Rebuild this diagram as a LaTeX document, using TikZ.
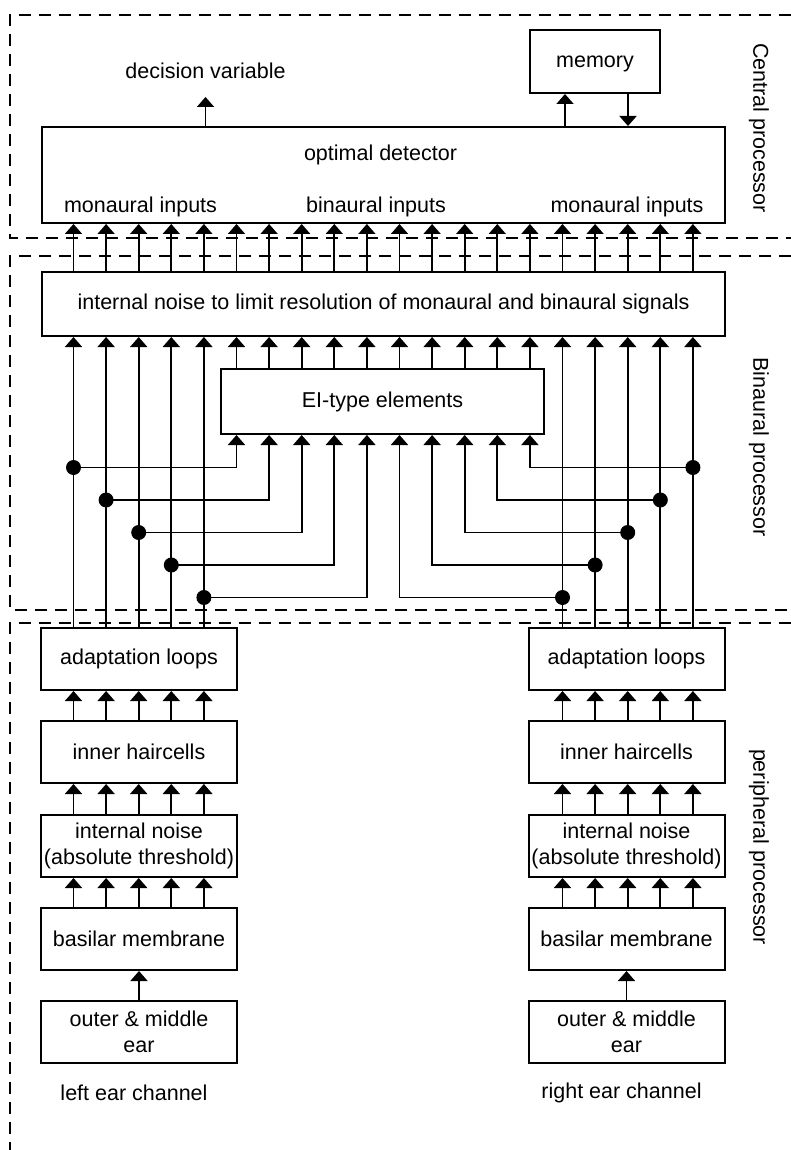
\documentclass[tikz,border=0pt]{standalone}
\usepackage{fontspec}
\setmainfont{Liberation Sans}
\usepackage{tikz}
\usetikzlibrary{arrows.meta,positioning,calc}
\newcommand{\blkfont}{\fontsize{21.5}{26.5}\selectfont}
\tikzset{
  block/.style={rectangle, draw=black, line width=2pt, align=center, inner sep=0pt, font=\blkfont},
  widebox/.style={block, minimum width=683pt},
  earbox/.style={block, minimum width=196pt, minimum height=62pt},
  txt/.style={inner sep=0pt, align=center, font=\blkfont},
  side/.style={txt, rotate=-90},
  arrow/.style={-{Triangle[length=10pt,width=17pt]}, line width=1.8pt, draw=black},
  dot/.style={circle, fill=black, inner sep=0pt, minimum size=15pt},
  frame/.style={line width=1.8pt, dash pattern=on 12pt off 8pt}
}

\begin{document}
\begin{tikzpicture}[x=1pt, y=-1pt]
\fill[white] (0,0) rectangle (791,1150);
\useasboundingbox (0,0) rectangle (791,1150);
% processor regions
\draw[frame] (791,15) -- (10,15) -- (10,238) -- (791,238);
\draw[frame] (791,256) -- (10,256) -- (10,610) -- (791,610);
\draw[frame] (791,623) -- (10,623) -- (10,1150);
\node[side] (cproc) at (759,128) {Central processor};
\node[side] (bproc) at (759,447) {Binaural processor};
\node[side] (pproc) at (759,847) {peripheral processor};

% central processor
\node[widebox, minimum height=96pt] (det) at (383.5,175) {};
\node[txt] (detlbl) at (380.5,155) {optimal detector};
\node[txt] (monL) at (140.5,207) {monaural inputs};
\node[txt] (binin) at (376,207) {binaural inputs};
\node[txt] (monR) at (627,207) {monaural inputs};
\node[block, minimum width=130pt, minimum height=63pt, text depth=0pt] (mem) at (595,61.5) {memory};
\node[txt] (dv) at (205.5,70.5) {decision variable};
\coordinate (dvtip) at (205.5,97);
\coordinate (mup) at (565,0);
\coordinate (mdn) at (628,0);
\draw[arrow] (det.north -| dvtip) -- (dvtip);
\draw[arrow] (det.north -| mup) -- (mem.south -| mup);
\draw[arrow] (mem.south -| mdn) -- (det.north -| mdn);

% binaural processor
\node[widebox, minimum height=64pt] (noise) at (383.5,304) {internal noise to limit resolution of monaural and binaural signals};
\node[block, minimum width=323pt, minimum height=65pt] (ei) at (382.5,401.5) {EI-type elements};

% peripheral processor
\foreach \s/\x in {L/139, R/626.5} {
  \node[earbox] (adapt\s) at (\x,659) {adaptation loops};
  \node[earbox] (ihc\s) at (\x,752) {inner haircells};
  \node[earbox] (inoise\s) at (\x,846) {internal noise\\(absolute threshold)};
  \node[earbox] (bm\s) at (\x,939) {basilar membrane};
  \node[earbox] (ome\s) at (\x,1032) {outer \& middle\\ear};
  \draw[arrow] (ome\s.north) -- (bm\s.south);
}
\node[txt] (leftch) at (134,1093) {left ear channel};
\node[txt] (rightch) at (621.5,1093) {right ear channel};

% channels
\foreach \i in {1,...,20}
  \coordinate (c\i) at ({73.5+(\i-1)*32.6},0);
\foreach \i in {1,...,20}
  \draw[arrow] (noise.north -| c\i) -- (det.south -| c\i);
\foreach \i in {6,...,15}
  \draw[arrow] (ei.north -| c\i) -- (noise.south -| c\i);
\foreach \s/\a/\b in {L/1/5, R/16/20} {
  \foreach \i in {\a,...,\b} {
    \draw[arrow] (bm\s.north -| c\i) -- (inoise\s.south -| c\i);
    \draw[arrow] (inoise\s.north -| c\i) -- (ihc\s.south -| c\i);
    \draw[arrow] (ihc\s.north -| c\i) -- (adapt\s.south -| c\i);
    \draw[arrow] (adapt\s.north -| c\i) -- (noise.south -| c\i);
  }
}
\foreach \k in {1,...,5} {
  \pgfmathsetmacro\yd{467.5+(\k-1)*32.5}
  \pgfmathtruncatemacro\lt{\k+5}
  \pgfmathtruncatemacro\r{21-\k}
  \pgfmathtruncatemacro\rt{16-\k}
  \node[dot] (dl\k) at ($(c\k)+(0,\yd)$) {};
  \node[dot] (dr\k) at ($(c\r)+(0,\yd)$) {};
  \draw[arrow] (dl\k.center) -| (ei.south -| c\lt);
  \draw[arrow] (dr\k.center) -| (ei.south -| c\rt);
}
\end{tikzpicture}
\end{document}
